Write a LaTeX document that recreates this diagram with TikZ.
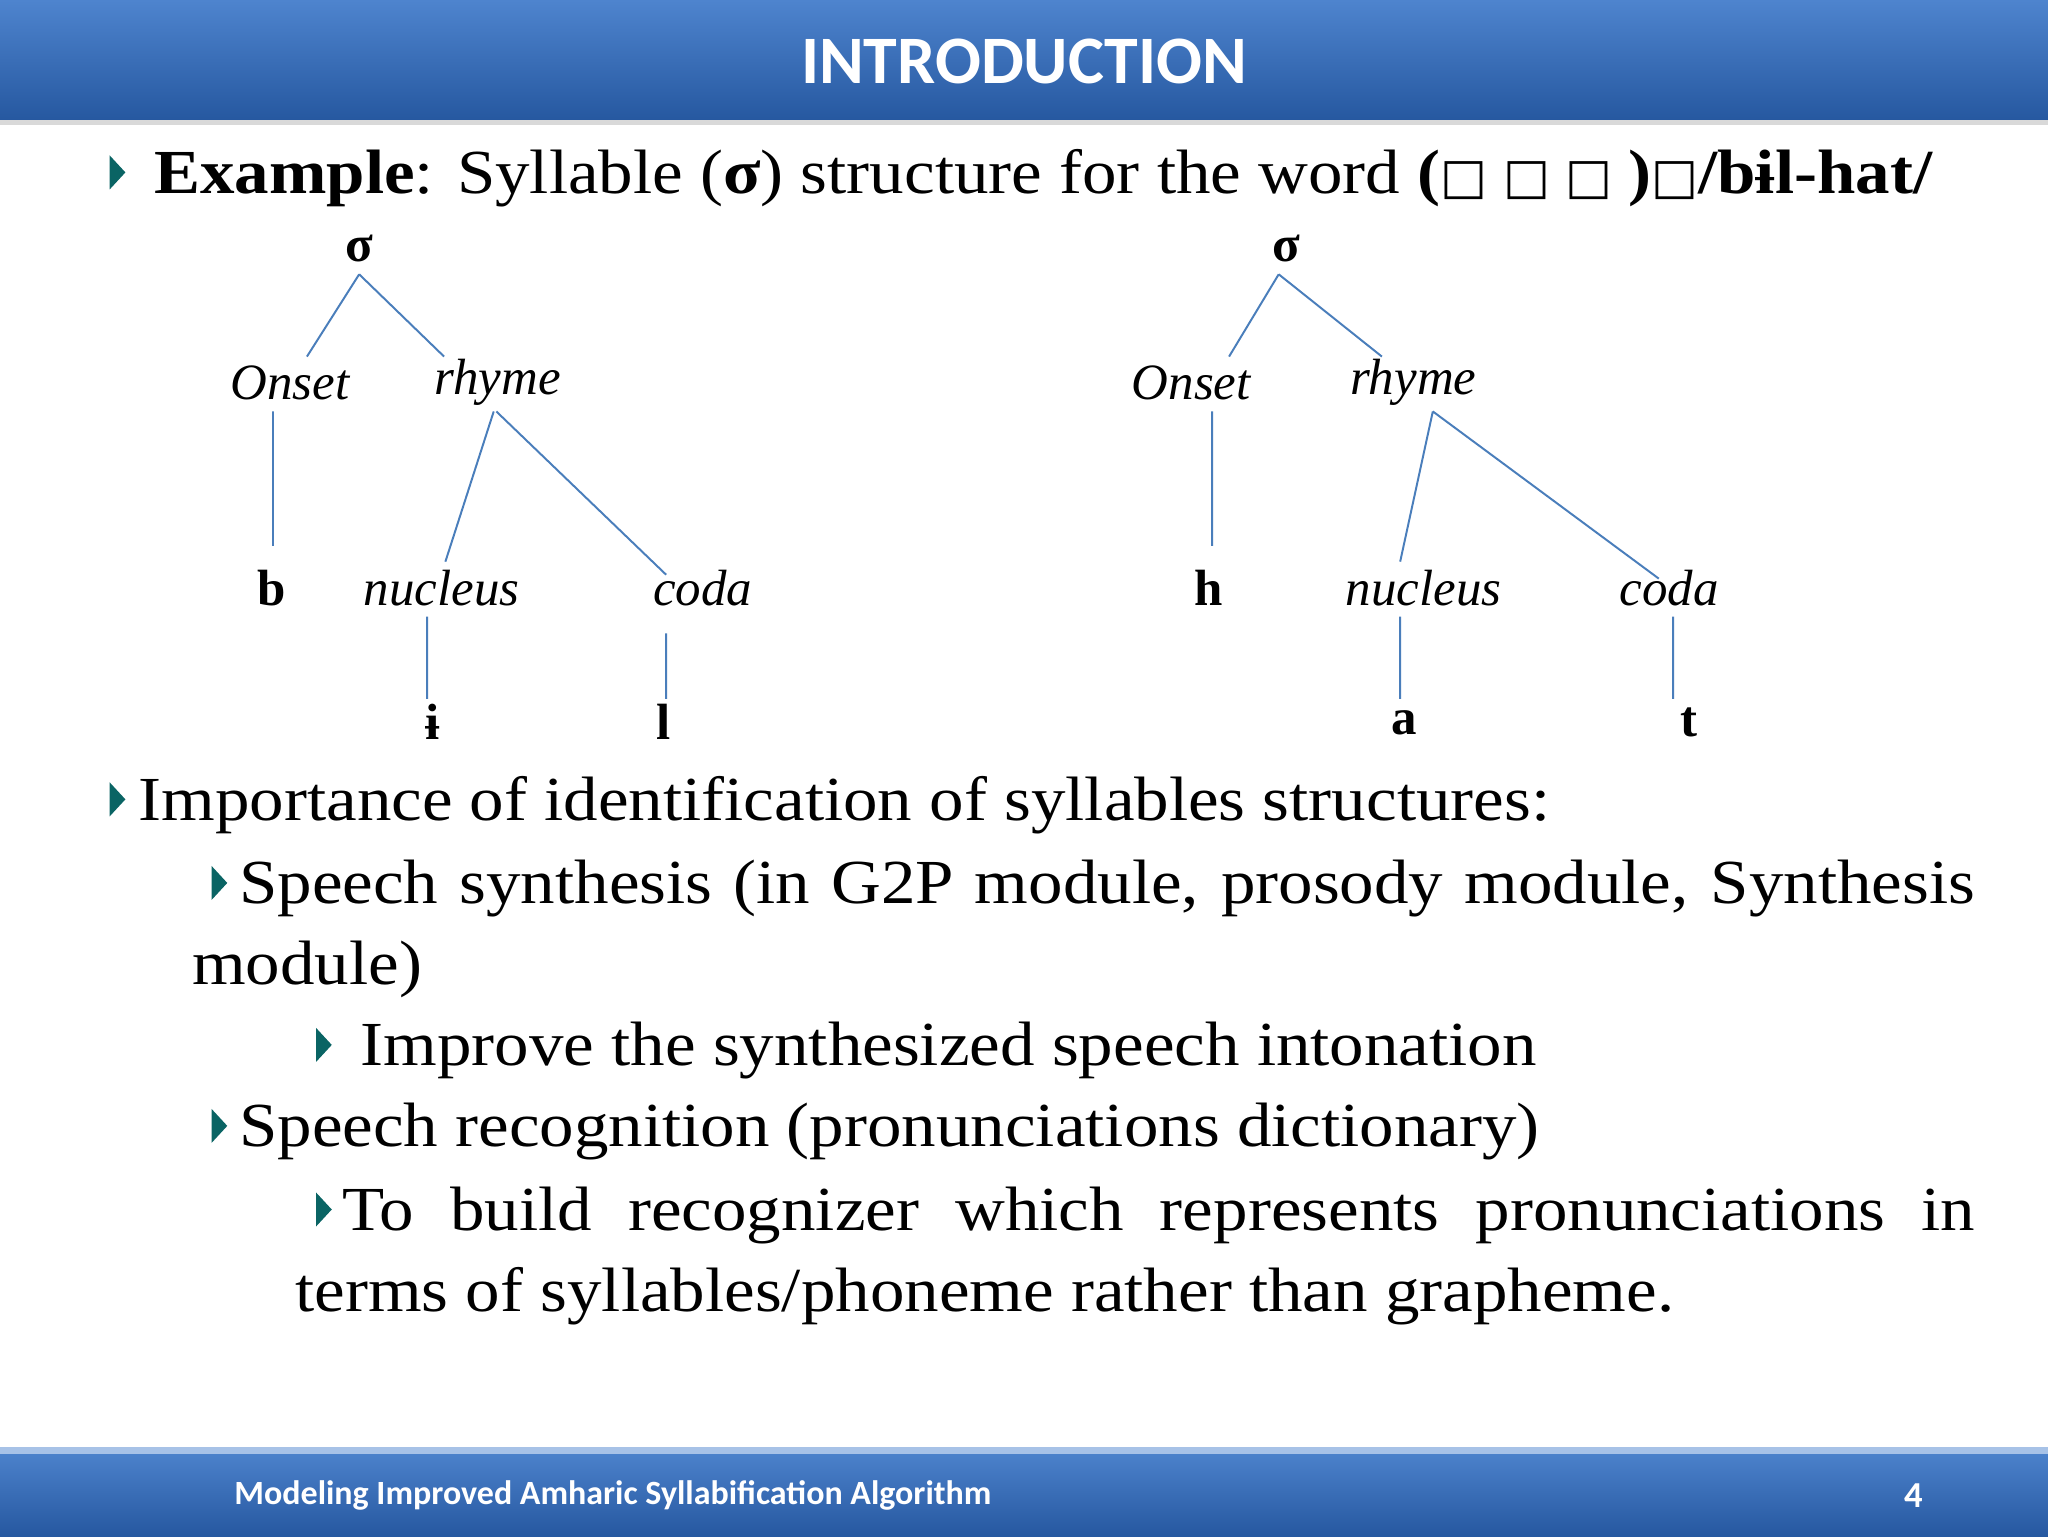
\documentclass[tikz,border=0pt]{standalone}
\usepackage{fontspec}
\setmainfont{Liberation Serif}
\newfontfamily\bodyf[FakeStretch=1.1]{Liberation Serif}
\newfontfamily\hdr{Carlito}
\newfontfamily\djvs{DejaVu Sans}
\definecolor{barA}{RGB}{78,132,206}
\definecolor{barB}{RGB}{38,88,160}
\definecolor{ln}{RGB}{74,126,187}
\definecolor{bul}{RGB}{10,100,100}
\tikzset{
 body/.style={anchor=base west,inner sep=0pt,font=\bodyf\fontsize{48}{52}\selectfont},
 lab/.style={inner sep=0pt,font=\fontsize{39}{40}\selectfont\itshape},
 let/.style={inner sep=0pt,font=\fontsize{39}{40}\selectfont\bfseries},
 tl/.style={draw=ln,line width=1.5pt},
 bul/.pic={\fill[bul] (0,-13)--(0,13)--(12,0)--cycle;}
}
\begin{document}
\begin{tikzpicture}[x=1pt,y=-1pt]
\useasboundingbox (0,0) rectangle (1568,1176);
\fill[white] (0,0) rectangle (1568,1176);
\shade[top color=barA,bottom color=barB] (0,0) rectangle (1568,92);
\fill[black!15] (0,92) rectangle (1568,96);
\node[font=\hdr\bfseries\fontsize{52}{56}\selectfont,text=white] (title) at (784,47) {INTRODUCTION};
\shade[top color=barA,bottom color=barB] (0,1108) rectangle (1568,1176);
\fill[barA!50] (0,1108) rectangle (1568,1113);
\node[font=\hdr\bfseries\fontsize{26}{28}\selectfont,text=white,anchor=west] (foot) at (176,1145) {Modeling Improved Amharic Syllabification Algorithm};
\node[font=\hdr\bfseries\fontsize{28}{30}\selectfont,text=white] (pg) at (1465,1145) {4};
% bullets
\pic at (84,132) {bul};
\pic at (84,612) {bul};
\pic at (162,676) {bul};
\pic at (242,800) {bul};
\pic at (162,862) {bul};
\pic at (242,926) {bul};
\node[body] (l1) at (118,148) {\textbf{Example}: Syllable (\textbf{σ}) structure for the word \textbf{(}{\djvs\fontsize{38}{38}\selectfont □ □ □ }\textbf{)}{\djvs\fontsize{38}{38}\selectfont □}\textbf{/bɨl-hat/}};
\node[body] (l2) at (106,628) {Importance of identification of syllables structures:};
\node[body] (l3) at (183,692) {\makebox[1329pt][s]{Speech synthesis (in G2P module, prosody module, Synthesis}};
\node[body] (l4) at (147,754) {module)};
\node[body] (l5) at (276,816) {Improve the synthesized speech intonation};
\node[body] (l6) at (183,878) {Speech recognition (pronunciations dictionary)};
\node[body] (l7) at (262,942) {\makebox[1250pt][s]{To build recognizer which represents pronunciations in}};
\node[body] (l8) at (226,1004) {terms of syllables/phoneme rather than grapheme.};
% left tree
\node[let] (s1) at (275,190) {σ};
\node[lab] (o1) at (222,293) {Onset};
\node[lab] (r1) at (381,293) {rhyme};
\node[let] (b1) at (208,450) {b};
\node[lab] (n1) at (338,450) {nucleus};
\node[lab] (c1) at (538,450) {coda};
\node[let] (i1) at (331,553) {ɨ};
\node[let] (k1) at (508,553) {l};
\draw[tl] (275,210)--(235,273) (275,210)--(340,273) (209,315)--(209,418)
 (378,315)--(341,430) (380,315)--(510,440) (327,472)--(327,535) (510,485)--(510,535);
% right tree
\node[let] (s2) at (985,190) {σ};
\node[lab] (o2) at (912,293) {Onset};
\node[lab] (r2) at (1082,293) {rhyme};
\node[let] (h2) at (925,450) {h};
\node[lab] (n2) at (1090,450) {nucleus};
\node[lab] (c2) at (1278,450) {coda};
\node[let] (a2) at (1075,553) {a};
\node[let] (t2) at (1293,553) {t};
\draw[tl] (979,210)--(941,273) (979,210)--(1058,273) (928,315)--(928,418)
 (1097,315)--(1072,430) (1097,315)--(1270,443) (1072,472)--(1072,535) (1281,472)--(1281,535);
\end{tikzpicture}
\end{document}
